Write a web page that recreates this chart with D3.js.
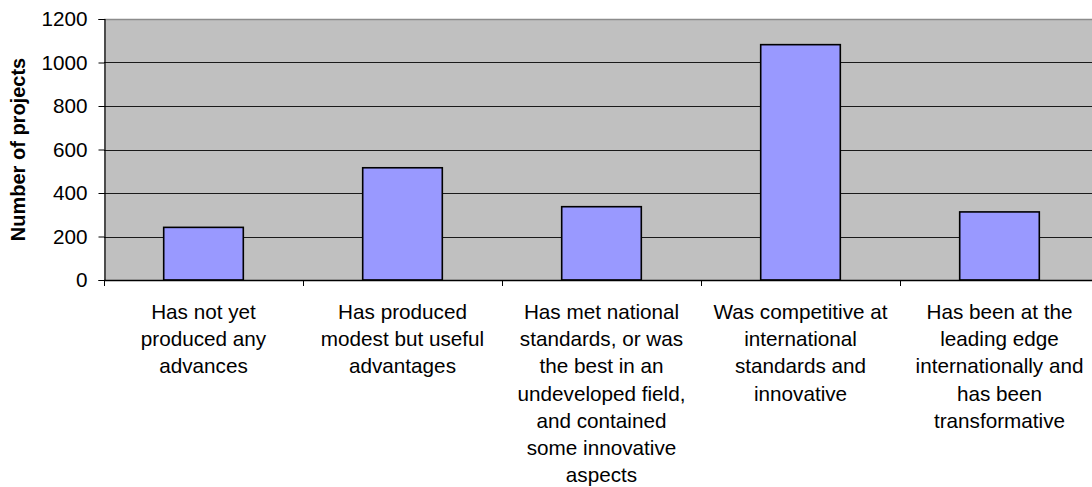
<!DOCTYPE html>
<html>
<head>
<meta charset="utf-8">
<script src="https://cdn.jsdelivr.net/npm/d3@7"></script>
<style>
  html, body { margin: 0; padding: 0; background: #ffffff; overflow: hidden; }
  svg { display: block; font-family: "Liberation Sans", Arial, sans-serif; }
</style>
</head>
<body>
<svg id="chart" width="1092" height="487"></svg>
<script>
// Category labels, one array entry per line of the wrapped label
const categories = [
  ["Has not yet", "produced any", "advances"],
  ["Has produced", "modest but useful", "advantages"],
  ["Has met national", "standards, or was", "the best in an", "undeveloped field,", "and contained", "some innovative", "aspects"],
  ["Was competitive at", "international", "standards and", "innovative"],
  ["Has been at the", "leading edge", "internationally and", "has been", "transformative"]
];
const projectCounts = [242, 516, 337, 1082, 313];
const yTicks = [0, 200, 400, 600, 800, 1000, 1200];
const yTitle = "Number of projects";

const fontSize = 20.7;
const svg = d3.select("#chart");
const plot = { left: 104, right: 1099, top: 19, bottom: 280 };

const x = d3.scaleBand()
  .domain(d3.range(categories.length))
  .range([plot.left, plot.right])
  .paddingInner(0.6)
  .paddingOuter(0.3);

const y = d3.scaleLinear()
  .domain([0, 1200])
  .range([plot.bottom, plot.top]);

// Plot background
svg.append("rect")
  .attr("x", plot.left).attr("y", plot.top)
  .attr("width", plot.right - plot.left).attr("height", plot.bottom - plot.top)
  .attr("fill", "#c0c0c0");

// Horizontal gridlines
svg.append("g")
  .selectAll("line")
  .data(yTicks.filter(t => t > 0 && t < 1200))
  .join("line")
  .attr("x1", plot.left).attr("x2", plot.right)
  .attr("y1", d => Math.round(y(d)) + 0.5).attr("y2", d => Math.round(y(d)) + 0.5)
  .attr("stroke", "#1a1a1a").attr("stroke-width", 1);

// Top border of the plot area
svg.append("line")
  .attr("x1", plot.left).attr("x2", plot.right)
  .attr("y1", Math.round(y(1200)) + 0.5).attr("y2", Math.round(y(1200)) + 0.5)
  .attr("stroke", "#8c8c8c").attr("stroke-width", 1.5);

// Bars
svg.append("g")
  .selectAll("rect")
  .data(projectCounts)
  .join("rect")
  .attr("x", (d, i) => x(i))
  .attr("y", d => y(d))
  .attr("width", x.bandwidth())
  .attr("height", d => y(0) - y(d))
  .attr("fill", "#9999ff")
  .attr("stroke", "#000000")
  .attr("stroke-width", 1.6);

// Y axis
const yAxis = d3.axisLeft(y)
  .tickValues(yTicks)
  .tickSize(6)
  .tickPadding(11)
  .tickFormat(d3.format("d"));
const gy = svg.append("g")
  .attr("transform", `translate(${plot.left + 0.5},0)`)
  .call(yAxis);
gy.select(".domain").attr("stroke", "#000").attr("stroke-width", 1.2);
gy.selectAll(".tick line").attr("stroke", "#000");
gy.selectAll(".tick text")
  .attr("font-size", fontSize)
  .attr("font-family", "Liberation Sans, Arial, sans-serif")
  .attr("fill", "#000");

// X axis: ticks sit on the category boundaries
const boundaries = d3.range(categories.length + 1).map(i => plot.left + i * x.step());
const gx = svg.append("g");
gx.append("line")
  .attr("x1", plot.left).attr("x2", plot.right)
  .attr("y1", plot.bottom + 0.5).attr("y2", plot.bottom + 0.5)
  .attr("stroke", "#000").attr("stroke-width", 1.5);
gx.selectAll("line.tick")
  .data(boundaries)
  .join("line")
  .attr("class", "tick")
  .attr("x1", d => Math.round(d) + 0.5).attr("x2", d => Math.round(d) + 0.5)
  .attr("y1", plot.bottom).attr("y2", plot.bottom + 6)
  .attr("stroke", "#000");

// Category labels
const labels = svg.append("g")
  .selectAll("text")
  .data(categories)
  .join("text")
  .attr("text-anchor", "middle")
  .attr("font-size", fontSize)
  .attr("fill", "#000")
  .attr("x", (d, i) => x(i) + x.bandwidth() / 2)
  .attr("y", 319);
labels.selectAll("tspan")
  .data(d => d)
  .join("tspan")
  .attr("x", function () { return this.parentNode.getAttribute("x"); })
  .attr("dy", (d, i) => i === 0 ? 0 : 27.2)
  .text(d => d);

// Y axis title
svg.append("text")
  .attr("transform", `translate(25,${(plot.top + plot.bottom) / 2}) rotate(-90)`)
  .attr("text-anchor", "middle")
  .attr("font-size", 20)
  .attr("font-weight", "bold")
  .attr("fill", "#000")
  .text(yTitle);
</script>
</body>
</html>
